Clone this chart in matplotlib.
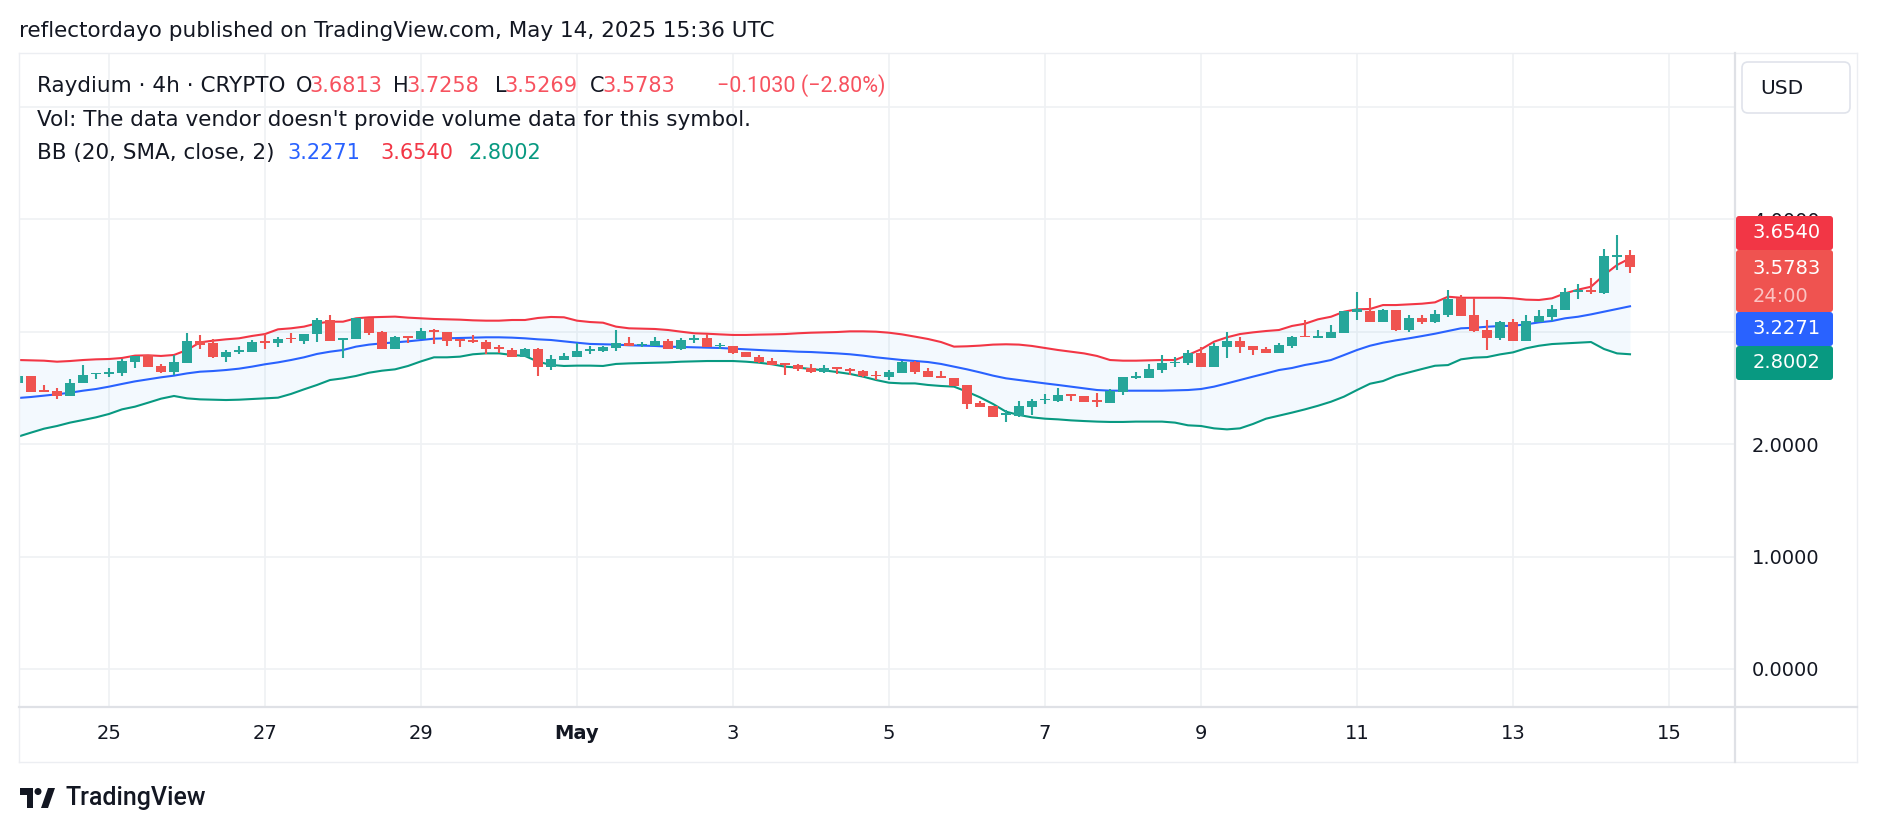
import numpy as np
import pandas as pd
import matplotlib
matplotlib.use('Agg')
import matplotlib.pyplot as plt
import matplotlib.dates as mdates
from matplotlib.patches import FancyBboxPatch, Circle, Polygon
from matplotlib.lines import Line2D
from matplotlib.transforms import IdentityTransform

plt.rcParams['font.family'] = ['DejaVu Sans']

W, H = 1878, 832

# Raydium 4h candles, Apr 23 20:00 -> May 14 12:00 UTC
opens = [2.547, 2.607, 2.482, 2.476, 2.432, 2.541, 2.625, 2.625, 2.636, 2.734,
         2.791, 2.696, 2.645, 2.725, 2.915, 2.897, 2.779, 2.820, 2.823, 2.915,
         2.897, 2.945, 2.921, 2.977, 3.105, 2.927, 2.933, 3.120, 2.998, 2.850,
         2.963, 2.933, 3.019, 3.001, 2.936, 2.930, 2.909, 2.862, 2.838, 2.773,
         2.847, 2.690, 2.749, 2.779, 2.832, 2.829, 2.859, 2.903, 2.880, 2.874,
         2.918, 2.847, 2.927, 2.948, 2.871, 2.874, 2.820, 2.773, 2.743, 2.722,
         2.705, 2.681, 2.645, 2.684, 2.669, 2.654, 2.619, 2.601, 2.636, 2.734,
         2.651, 2.607, 2.586, 2.527, 2.364, 2.340, 2.263, 2.251, 2.334, 2.393,
         2.387, 2.444, 2.429, 2.393, 2.369, 2.467, 2.592, 2.592, 2.660, 2.719,
         2.719, 2.808, 2.690, 2.868, 2.918, 2.874, 2.844, 2.814, 2.877, 2.963,
         2.948, 2.948, 2.986, 3.179, 3.185, 3.090, 3.191, 3.016, 3.120, 3.090,
         3.149, 3.298, 3.149, 3.016, 2.948, 3.084, 2.921, 3.084, 3.134, 3.194,
         3.357, 3.372, 3.348, 3.668, 3.6813]
highs = [2.620, 2.607, 2.527, 2.497, 2.580, 2.705, 2.633, 2.678, 2.755, 2.785,
         2.791, 2.714, 2.791, 2.989, 2.975, 2.933, 2.838, 2.874, 2.927, 2.978,
         2.957, 2.986, 2.980, 3.123, 3.150, 2.948, 3.125, 3.120, 3.007, 2.963,
         2.963, 3.031, 3.025, 3.001, 2.936, 2.969, 2.927, 2.883, 2.853, 2.853,
         2.859, 2.794, 2.808, 2.903, 2.874, 2.877, 3.016, 2.957, 2.909, 2.954,
         2.936, 2.942, 2.972, 2.980, 2.903, 2.874, 2.820, 2.794, 2.770, 2.722,
         2.714, 2.714, 2.702, 2.684, 2.675, 2.660, 2.651, 2.660, 2.743, 2.743,
         2.678, 2.654, 2.586, 2.527, 2.384, 2.340, 2.304, 2.384, 2.402, 2.444,
         2.497, 2.444, 2.429, 2.453, 2.488, 2.598, 2.639, 2.711, 2.794, 2.773,
         2.838, 2.868, 2.903, 3.001, 2.951, 2.874, 2.868, 2.903, 2.963, 3.105,
         3.016, 3.060, 3.185, 3.354, 3.298, 3.200, 3.191, 3.149, 3.149, 3.194,
         3.372, 3.327, 3.303, 3.105, 3.096, 3.114, 3.149, 3.194, 3.238, 3.386,
         3.422, 3.481, 3.736, 3.861, 3.7258]
lows = [2.530, 2.467, 2.467, 2.399, 2.432, 2.541, 2.577, 2.595, 2.607, 2.681,
        2.690, 2.630, 2.616, 2.725, 2.850, 2.767, 2.731, 2.803, 2.823, 2.850,
        2.868, 2.903, 2.889, 2.912, 2.921, 2.764, 2.933, 2.972, 2.844, 2.844,
        2.903, 2.933, 2.889, 2.877, 2.862, 2.903, 2.800, 2.808, 2.779, 2.773,
        2.607, 2.660, 2.749, 2.779, 2.803, 2.823, 2.832, 2.877, 2.862, 2.874,
        2.847, 2.838, 2.903, 2.862, 2.844, 2.803, 2.773, 2.719, 2.708, 2.616,
        2.654, 2.636, 2.636, 2.625, 2.616, 2.601, 2.571, 2.571, 2.636, 2.625,
        2.601, 2.586, 2.521, 2.313, 2.334, 2.239, 2.201, 2.245, 2.260, 2.355,
        2.378, 2.387, 2.373, 2.334, 2.369, 2.438, 2.577, 2.592, 2.636, 2.684,
        2.708, 2.690, 2.684, 2.764, 2.814, 2.791, 2.814, 2.808, 2.859, 2.951,
        2.948, 2.948, 2.986, 3.105, 3.084, 3.084, 3.010, 2.995, 3.066, 3.075,
        3.134, 3.143, 3.001, 2.838, 2.927, 2.921, 2.921, 3.084, 3.096, 3.194,
        3.292, 3.339, 3.339, 3.550, 3.5269]
closes = [2.607, 2.467, 2.467, 2.432, 2.541, 2.613, 2.633, 2.642, 2.740, 2.785,
          2.690, 2.645, 2.731, 2.918, 2.883, 2.776, 2.820, 2.838, 2.912, 2.903,
          2.933, 2.933, 2.980, 3.105, 2.921, 2.948, 3.120, 2.992, 2.847, 2.951,
          2.945, 3.007, 3.001, 2.921, 2.921, 2.912, 2.850, 2.844, 2.779, 2.847,
          2.690, 2.758, 2.785, 2.829, 2.847, 2.865, 2.903, 2.877, 2.894, 2.918,
          2.847, 2.927, 2.942, 2.862, 2.886, 2.814, 2.773, 2.731, 2.708, 2.708,
          2.669, 2.645, 2.675, 2.669, 2.654, 2.610, 2.607, 2.645, 2.728, 2.645,
          2.601, 2.586, 2.521, 2.361, 2.334, 2.239, 2.281, 2.340, 2.387, 2.405,
          2.438, 2.429, 2.373, 2.375, 2.476, 2.598, 2.607, 2.669, 2.719, 2.734,
          2.808, 2.690, 2.874, 2.918, 2.868, 2.838, 2.814, 2.883, 2.957, 2.951,
          2.965, 3.001, 3.185, 3.200, 3.090, 3.194, 3.016, 3.120, 3.090, 3.158,
          3.292, 3.143, 3.007, 2.948, 3.084, 2.921, 3.096, 3.140, 3.200, 3.351,
          3.372, 3.357, 3.674, 3.683, 3.5783]

# Bollinger Bands (20, SMA, close, 2)
bb_upper = [2.749, 2.746, 2.743, 2.734, 2.740, 2.749, 2.755, 2.758, 2.767, 2.788,
            2.791, 2.785, 2.794, 2.838, 2.906, 2.921, 2.933, 2.942, 2.963, 2.980,
            3.022, 3.031, 3.046, 3.075, 3.090, 3.090, 3.120, 3.129, 3.132, 3.135,
            3.126, 3.120, 3.114, 3.111, 3.108, 3.102, 3.099, 3.099, 3.105, 3.105,
            3.123, 3.132, 3.129, 3.099, 3.087, 3.081, 3.046, 3.031, 3.028, 3.025,
            3.016, 3.001, 2.987, 2.983, 2.977, 2.972, 2.972, 2.975, 2.977, 2.980,
            2.987, 2.992, 2.995, 2.998, 3.004, 3.004, 3.001, 2.992, 2.977, 2.957,
            2.936, 2.909, 2.868, 2.871, 2.877, 2.886, 2.889, 2.886, 2.874, 2.856,
            2.838, 2.823, 2.808, 2.785, 2.749, 2.743, 2.743, 2.746, 2.749, 2.749,
            2.794, 2.844, 2.912, 2.951, 2.980, 2.995, 3.007, 3.016, 3.052, 3.072,
            3.111, 3.134, 3.179, 3.200, 3.203, 3.238, 3.238, 3.244, 3.250, 3.262,
            3.312, 3.303, 3.303, 3.303, 3.303, 3.298, 3.286, 3.283, 3.298, 3.342,
            3.375, 3.401, 3.505, 3.594, 3.654]
bb_basis = [2.411, 2.420, 2.432, 2.444, 2.458, 2.476, 2.491, 2.512, 2.536, 2.559,
            2.577, 2.595, 2.610, 2.630, 2.645, 2.651, 2.660, 2.672, 2.690, 2.711,
            2.728, 2.749, 2.773, 2.803, 2.823, 2.838, 2.868, 2.886, 2.897, 2.906,
            2.915, 2.927, 2.939, 2.942, 2.945, 2.948, 2.951, 2.951, 2.948, 2.942,
            2.933, 2.927, 2.915, 2.903, 2.892, 2.889, 2.886, 2.880, 2.877, 2.874,
            2.868, 2.865, 2.862, 2.859, 2.856, 2.850, 2.844, 2.838, 2.832, 2.829,
            2.823, 2.820, 2.814, 2.808, 2.800, 2.788, 2.773, 2.761, 2.749, 2.740,
            2.731, 2.714, 2.690, 2.666, 2.639, 2.610, 2.586, 2.571, 2.556, 2.541,
            2.527, 2.512, 2.497, 2.482, 2.476, 2.476, 2.476, 2.476, 2.476, 2.479,
            2.482, 2.491, 2.512, 2.541, 2.571, 2.601, 2.630, 2.660, 2.678, 2.705,
            2.725, 2.749, 2.793, 2.838, 2.876, 2.903, 2.924, 2.942, 2.962, 2.983,
            3.007, 3.031, 3.036, 3.045, 3.051, 3.054, 3.066, 3.084, 3.096, 3.120,
            3.134, 3.155, 3.179, 3.203, 3.2271]
bb_lower = [2.067, 2.103, 2.138, 2.162, 2.192, 2.215, 2.239, 2.269, 2.310, 2.334,
            2.369, 2.405, 2.429, 2.408, 2.399, 2.396, 2.393, 2.396, 2.402, 2.408,
            2.414, 2.447, 2.488, 2.527, 2.571, 2.586, 2.607, 2.636, 2.654, 2.666,
            2.696, 2.737, 2.773, 2.773, 2.779, 2.800, 2.808, 2.808, 2.794, 2.785,
            2.734, 2.705, 2.696, 2.699, 2.699, 2.696, 2.714, 2.719, 2.722, 2.725,
            2.728, 2.734, 2.737, 2.740, 2.740, 2.740, 2.734, 2.725, 2.711, 2.690,
            2.681, 2.669, 2.657, 2.642, 2.625, 2.601, 2.571, 2.547, 2.541, 2.541,
            2.527, 2.518, 2.512, 2.467, 2.417, 2.358, 2.289, 2.260, 2.239, 2.227,
            2.221, 2.212, 2.206, 2.201, 2.198, 2.198, 2.201, 2.201, 2.201, 2.192,
            2.168, 2.162, 2.141, 2.132, 2.141, 2.180, 2.227, 2.254, 2.281, 2.310,
            2.342, 2.378, 2.423, 2.482, 2.538, 2.562, 2.609, 2.639, 2.669, 2.698,
            2.704, 2.755, 2.770, 2.775, 2.799, 2.817, 2.853, 2.876, 2.891, 2.897,
            2.903, 2.909, 2.847, 2.808, 2.8002]

date_labels = ['25', '27', '29', 'May', '3', '5', '7', '9', '11', '13', '15']
price_ticks = [0, 1, 2, 3, 4, 5]
price_labels = ['0.0000', '1.0000', '2.0000', '', '4.0000', '']

UP, DOWN = '#26a69a', '#ef5350'
TXT = '#131722'
FS = 15.5

o = np.array(opens); h = np.array(highs); l = np.array(lows); c = np.array(closes)
times = pd.date_range('2025-04-23 20:00', periods=len(c), freq='4h')
x = mdates.date2num(times)

fig = plt.figure(figsize=(W / 100, H / 100), dpi=100)
fig.patch.set_facecolor('white')

# plot pane in pixels: x 19..1735, y 53..707
ax = fig.add_axes([19 / W, 1 - 707 / H, (1735 - 19) / W, (707 - 53) / H])
day0 = mdates.date2num(pd.Timestamp('2025-04-25'))
ppd = 78.0  # pixels per day
ax.set_xlim(day0 + (19 - 109) / ppd, day0 + (1735 - 109) / ppd)
ppu = 112.4  # pixels per price unit
ax.set_ylim((669 - 707) / ppu, (669 - 53) / ppu)

ax.fill_between(x, bb_lower, bb_upper, color='#2196f3', alpha=0.05, lw=0, zorder=1)
ax.plot(x, bb_upper, color='#f23645', lw=1.5, zorder=2)
ax.plot(x, bb_basis, color='#2962ff', lw=1.5, zorder=2)
ax.plot(x, bb_lower, color='#089981', lw=1.5, zorder=2)

cols = np.where(c >= o, UP, DOWN)
ax.vlines(x, l, h, colors=cols, lw=1.5, zorder=3)
ax.bar(x, np.maximum(np.abs(c - o), 0.009), bottom=np.minimum(o, c), width=0.12,
       color=cols, lw=0, zorder=4)

ticks = pd.date_range('2025-04-25', '2025-05-15', freq='2D')
ax.set_xticks(mdates.date2num(ticks))
ax.set_xticklabels(date_labels, fontsize=14, color=TXT)
for t in ax.get_xticklabels():
    if t.get_text() == 'May':
        t.set_fontweight('bold')
ax.yaxis.tick_right()
ax.set_yticks(price_ticks)
ax.set_yticklabels(price_labels, fontsize=14, color=TXT)
ax.tick_params(axis='x', length=0, pad=12)
ax.tick_params(axis='y', length=0, pad=12)
ax.grid(True, color='#eff1f4', lw=1.2, zorder=0)
ax.set_axisbelow(True)
for s in ax.spines.values():
    s.set_visible(False)

px = IdentityTransform()


def hline(y, x0, x1, color, lw=1.0):
    fig.add_artist(Line2D([x0, x1], [H - y, H - y], color=color, lw=lw, transform=px))


def vline(xx, y0, y1, color, lw=1.0):
    fig.add_artist(Line2D([xx, xx], [H - y0, H - y1], color=color, lw=lw, transform=px))


# pane frame
hline(53, 19, 1857, '#eceef2')
hline(762, 19, 1857, '#eceef2')
vline(19, 53, 762, '#eceef2')
vline(1857, 53, 762, '#eceef2')
hline(707, 19, 1857, '#dfe1e6', 1.6)
vline(1735, 53, 762, '#dfe1e6', 1.6)


def ptext(xx, y, s, **kw):
    fig.text(xx / W, 1 - y / H, s, **kw)


ptext(19, 37, 'reflectordayo published on TradingView.com, May 14, 2025 15:36 UTC',
      fontsize=FS, color=TXT, va='baseline')

red = '#f7525f'
ptext(37, 92, 'Raydium · 4h · CRYPTO', fontsize=FS, color=TXT, va='baseline')
for xx, s, col in [(296, 'O', TXT), (309, '3.6813', red), (393, 'H', TXT), (406, '3.7258', red),
                   (495, 'L', TXT), (504, '3.5269', red), (590, 'C', TXT), (602, '3.5783', red)]:
    ptext(xx, 92, s, fontsize=FS - 0.5, color=col, va='baseline')
ptext(717, 92, '\u22120.1030 (\u22122.80%)', fontsize=FS, color=red, va='baseline',
      family=['Roboto', 'DejaVu Sans'])
ptext(37, 126, "Vol: The data vendor doesn't provide volume data for this symbol.",
      fontsize=FS, color=TXT, va='baseline')
ptext(37, 159, 'BB (20, SMA, close, 2)', fontsize=FS, color=TXT, va='baseline')
for xx, s, col in [(287, '3.2271', '#2962ff'), (380, '3.6540', '#f23645'), (469, '2.8002', '#089981')]:
    ptext(xx, 159, s, fontsize=FS - 0.5, color=col, va='baseline')

# USD box
fig.add_artist(FancyBboxPatch((1742, H - 113), 108, 51, boxstyle='round,pad=0,rounding_size=6',
                              fc='white', ec='#e0e3eb', lw=1.2, transform=px, zorder=5))
ptext(1760, 88, 'USD', fontsize=14.5, color=TXT, va='center', zorder=6)

# price scale labels
boxes = [(216, 250, '#f23645'), (250, 312, '#ef5350'), (312, 346, '#2962ff'), (346, 380, '#089981')]
for y0, y1, col in boxes:
    fig.add_artist(FancyBboxPatch((1736, H - y1), 97, y1 - y0, boxstyle='round,pad=0,rounding_size=3',
                                  fc=col, ec='none', transform=px, zorder=5))
for y, s, col in [(233, '3.6540', 'white'), (268, '3.5783', 'white'), (297, '24:00', '#fbc3c2'),
                  (329, '3.2271', 'white'), (363, '2.8002', 'white')]:
    ptext(1753, y, s, fontsize=14, color=col, va='center', zorder=6)

# TradingView logo
fig.add_artist(Polygon([(20, H - 788), (33, H - 788), (33, H - 808), (27, H - 808), (27, H - 795), (20, H - 795)],
                       closed=True, fc='#131722', ec='none', transform=px))
fig.add_artist(Circle((38, H - 791.5), 3.5, fc='#131722', ec='none', transform=px))
fig.add_artist(Polygon([(41, H - 808), (48, H - 808), (55, H - 788), (48, H - 788)],
                       closed=True, fc='#131722', ec='none', transform=px))
ptext(66, 798, 'TradingView', fontsize=18, color=TXT, va='center',
      family=['Roboto', 'DejaVu Sans'], fontweight='medium')

fig.savefig('out.png', dpi=100)
